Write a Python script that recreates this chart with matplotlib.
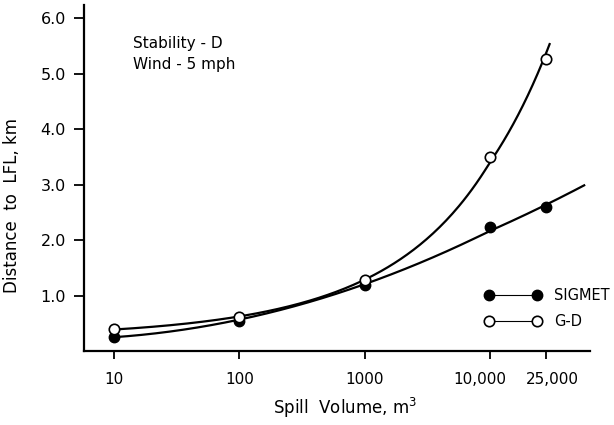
import numpy as np
import matplotlib
matplotlib.use("Agg")
import matplotlib.pyplot as plt
from matplotlib.lines import Line2D
from matplotlib.transforms import ScaledTranslation

# Data
spill_volume = [10, 100, 1000, 10000, 25000]
sigmet = [0.26, 0.55, 1.19, 2.24, 2.59]
gd = [0.39, 0.62, 1.28, 3.50, 5.27]
x_tick_values = [10, 100, 1000, 10000, 25000]
x_tick_labels = ["10", "100", "1000", "10,000", "25,000"]
y_tick_values = [1.0, 2.0, 3.0, 4.0, 5.0, 6.0]
y_tick_labels = ["1.0", "2.0", "3.0", "4.0", "5.0", "6.0"]
sigmet_curve_end = 46600
gd_curve_end = 26500

plt.rcParams['font.family'] = ['DejaVu Sans']
fig = plt.figure(figsize=(6.14, 4.25), dpi=100)
ax = fig.add_axes([0.1368, 0.174, 0.961 - 0.1368, 0.988 - 0.174])

# The original hand-drawn axis stretches the span above 10,000 slightly
STRETCH = 1.125


def fwd(x):
    u = np.log10(np.clip(np.asarray(x, dtype=float), 1e-300, None))
    return np.where(u > 4, 4 + (u - 4) * STRETCH, u)


def inv(v):
    v = np.asarray(v, dtype=float)
    return 10 ** np.where(v > 4, 4 + (v - 4) / STRETCH, v)


ax.set_xscale('function', functions=(fwd, inv))

u = np.log10(spill_volume)
# smooth fitted curves through the points (as in the original hand-fitted lines)
p_sig = np.polyfit(u, sigmet, 2)
p_gd = np.polyfit(u, np.log(gd), 2)
us = np.linspace(u[0], np.log10(sigmet_curve_end), 200)
ug = np.linspace(u[0], np.log10(gd_curve_end), 200)
ax.plot(10 ** us, np.polyval(p_sig, us), color='black', lw=1.6, zorder=2)
ax.plot(10 ** ug, np.exp(np.polyval(p_gd, ug)), color='black', lw=1.6, zorder=2)

ax.plot(spill_volume, sigmet, 'o', color='black', ms=7.5, zorder=3)
ax.plot(spill_volume, gd, 'o', mfc='white', mec='black', mew=1.2, ms=7.5, zorder=3)

ax.set_xlim(5.76, 51300)
ax.set_ylim(0, 6.24)
ax.set_xticks(x_tick_values)
ax.set_xticklabels(x_tick_labels)
ax.xaxis.set_minor_locator(matplotlib.ticker.NullLocator())
ax.set_yticks(y_tick_values)
ax.set_yticklabels(y_tick_labels)

for s in ['top', 'right']:
    ax.spines[s].set_visible(False)
for s in ['left', 'bottom']:
    ax.spines[s].set_linewidth(1.6)

ax.tick_params(axis='x', direction='out', length=6, width=1.3, pad=9, labelsize=11)
ax.tick_params(axis='y', direction='out', length=7, width=1.3, pad=6, labelsize=11.5)

# nudge the crowded last two tick labels apart, as in the original lettering
shifts = [0, 0, 0, -0.10, 0.06]
for lab, dx in zip(ax.get_xticklabels(), shifts):
    if dx:
        lab.set_transform(lab.get_transform() + ScaledTranslation(dx, 0, fig.dpi_scale_trans))

ax.set_xlabel("Spill  Volume, m$^3$", fontsize=12, labelpad=8)
ax.xaxis.set_label_coords(0.516, -0.13)
ax.set_ylabel("Distance  to  LFL, km", fontsize=12)
ax.yaxis.set_label_coords(-0.125, 0.42)

ax.text(0.097, 0.89, "Stability - D", transform=ax.transAxes, fontsize=11, va='center')
ax.text(0.097, 0.827, "Wind - 5 mph", transform=ax.transAxes, fontsize=11, va='center')

handles = [
    Line2D([], [], color='black', lw=0.8, marker='o', ms=7.5, mfc='black', mec='black'),
    Line2D([], [], color='black', lw=0.8, marker='o', ms=7.5, mfc='white', mec='black', mew=1.2),
]
leg = ax.legend(handles, ["SIGMET", "G-D"], numpoints=2, handlelength=3.9, frameon=False,
                loc='center left', bbox_to_anchor=(0.7917, 0.1228), fontsize=10.5,
                labelspacing=0.7, handletextpad=0.86, borderaxespad=0, borderpad=0)

fig.savefig("out.png", dpi=100)
